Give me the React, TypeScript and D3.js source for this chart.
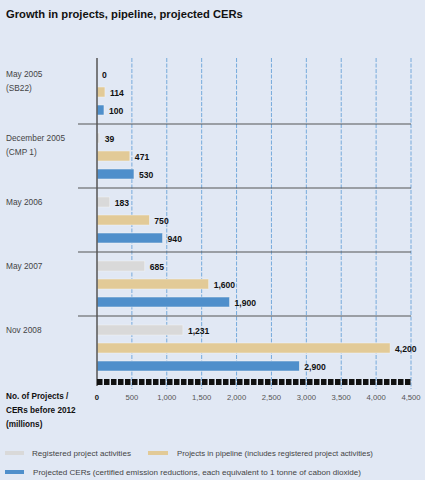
import React from 'react';
import { scaleLinear, scaleBand, format } from 'd3';

const periods = ['May 2005', 'December 2005', 'May 2006', 'May 2007', 'Nov 2008'];
const periodNotes = ['(SB22)', '(CMP 1)', '', '', ''];
const registered = [0, 39, 183, 685, 1231];
const pipeline = [114, 471, 750, 1600, 4200];
const projectedCers = [100, 530, 940, 1900, 2900];
const ticks = [0, 500, 1000, 1500, 2000, 2500, 3000, 3500, 4000, 4500];

const seriesNames = [
  'Registered project activities',
  'Projects in pipeline (includes registered project activities)',
  'Projected CERs (certified emission reductions, each equivalent to 1 tonne of cabon dioxide)',
];
const colors = ['#d9d9d9', '#e2ca97', '#4f8fcb'];

const W = 425;
const H = 480;
const bg = '#e1e8f4';
const font = 'Liberation Sans, Arial, sans-serif';

const App: React.FC = () => {
  const x = scaleLinear().domain([0, 4500]).range([97, 411]);
  const y = scaleBand().domain(periods).range([60, 380]);
  const fmt = format(',');
  const series = [registered, pipeline, projectedCers];

  return (
    <svg width={W} height={H} style={{ display: 'block', position: 'absolute', left: 0, top: 0, background: bg }}>
      <text x={6} y={18} fontFamily={font} fontWeight="bold" fontSize={11.2} fill="#111">
        Growth in projects, pipeline, projected CERs
      </text>

      {/* gridlines */}
      {ticks.slice(1).map((t) => (
        <line key={t} x1={x(t)} x2={x(t)} y1={58} y2={389} stroke="#5b9bd5" strokeWidth={0.8} strokeDasharray="4,1.5" />
      ))}

      {/* group separators */}
      {periods.slice(1).map((p) => (
        <line key={p} x1={78} x2={411} y1={y(p)} y2={y(p)} stroke="#555" strokeWidth={1.2} />
      ))}

      {/* bars */}
      {series.map((vals, si) =>
        periods.map((p, gi) => {
          const by = (y(p) as number) + 9 + si * 18;
          const v = vals[gi];
          return (
            <g key={`${si}-${gi}`}>
              <rect x={x(0)} y={by} width={x(v) - x(0)} height={10} fill={colors[si]} stroke="#f3f3f3" strokeWidth={0.5} />
              <text x={x(v) + 5} y={by + 8.5} fontFamily={font} fontWeight="bold" fontSize={8.6} fill="#111">
                {fmt(v)}
              </text>
            </g>
          );
        })
      )}

      {/* y axis line */}
      <line x1={97} x2={97} y1={58} y2={386} stroke="#555" strokeWidth={1.5} />

      {/* black band */}
      <line x1={97} x2={411} y1={382} y2={382} stroke="#111" strokeWidth={6} strokeDasharray="5.5,1.5" />

      {/* period labels */}
      {periods.map((p, i) => (
        <g key={p}>
          <text x={6} y={(y(p) as number) + 17} fontFamily={font} fontSize={8.3} fill="#444">{p}</text>
          {periodNotes[i] && (
            <text x={6} y={(y(p) as number) + 31} fontFamily={font} fontSize={8.3} fill="#444">{periodNotes[i]}</text>
          )}
        </g>
      ))}

      {/* tick labels */}
      {ticks.map((t) => (
        <text key={t} x={x(t)} y={400} textAnchor="middle" fontFamily={font} fontSize={7.7}
          fontWeight={t === 0 ? 'bold' : 'normal'} fill={t === 0 ? '#111' : '#555'}>
          {fmt(t)}
        </text>
      ))}

      {/* axis title */}
      {['No. of Projects /', 'CERs before 2012', '(millions)'].map((s, i) => (
        <text key={s} x={6} y={399 + i * 14} fontFamily={font} fontWeight="bold" fontSize={8.2} fill="#111">{s}</text>
      ))}

      {/* legend */}
      <rect x={5} y={451} width={19} height={4} fill={colors[0]} />
      <text x={32} y={456} fontFamily={font} fontSize={8.1} fill="#444">{seriesNames[0]}</text>
      <rect x={148} y={451} width={20} height={4} fill={colors[1]} />
      <text x={177} y={456} fontFamily={font} fontSize={7.8} fill="#444">{seriesNames[1]}</text>
      <rect x={5} y={470} width={19} height={4} fill={colors[2]} />
      <text x={33} y={475} fontFamily={font} fontSize={8.1} fill="#444">{seriesNames[2]}</text>
    </svg>
  );
};

export default App;
